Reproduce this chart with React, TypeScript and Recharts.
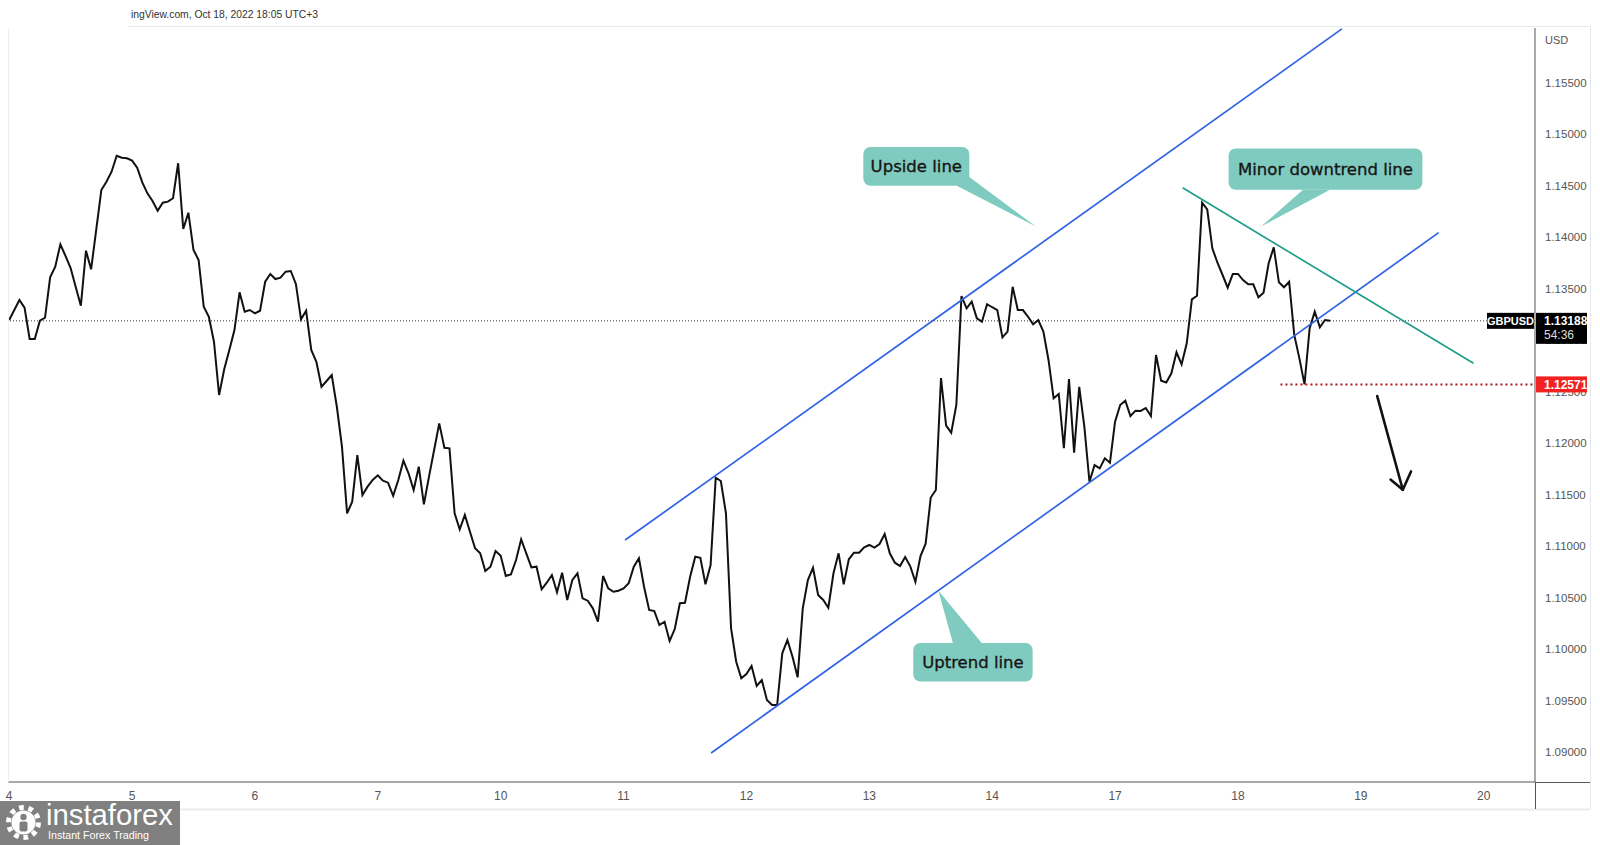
import React from "react";
import { LineChart, Line, XAxis, YAxis, ReferenceLine, ReferenceDot } from "recharts";

// GBPUSD 1h closes, one array per trading session (chart time UTC+3)
const oct04 = [1.13196, 1.13293, 1.1339, 1.13316, 1.13012, 1.13012, 1.13189, 1.13218, 1.13611, 1.13714, 1.13931, 1.13818, 1.13701, 1.13517, 1.13335, 1.13869, 1.13688, 1.1407, 1.14458, 1.14539, 1.14636, 1.14791, 1.14772, 1.14766];
const oct05 = [1.14743, 1.14675, 1.14533, 1.14426, 1.14351, 1.14257, 1.14335, 1.14345, 1.14378, 1.14718, 1.1408, 1.14238, 1.13876, 1.13779, 1.13325, 1.13228, 1.12985, 1.12468, 1.12718, 1.12905, 1.13099, 1.13465, 1.13277, 1.13293];
const oct06 = [1.13261, 1.13286, 1.13568, 1.13643, 1.13594, 1.13607, 1.13665, 1.13672, 1.13546, 1.13203, 1.13286, 1.12905, 1.12791, 1.12548, 1.12604, 1.12662, 1.12354, 1.11966, 1.11319, 1.11432, 1.11885, 1.11497, 1.11578, 1.11643];
const oct07 = [1.11688, 1.11636, 1.11617, 1.1149, 1.11643, 1.1183, 1.11708, 1.11546, 1.11772, 1.11407, 1.11675, 1.11934, 1.12193, 1.11956, 1.1195, 1.11319, 1.11164, 1.11303, 1.11141, 1.1098, 1.10931, 1.10759, 1.10801, 1.10953];
const oct10 = [1.10908, 1.10711, 1.10727, 1.10866, 1.11067, 1.10931, 1.10795, 1.10801, 1.10582, 1.10646, 1.1072, 1.10552, 1.10743, 1.10478, 1.10672, 1.10737, 1.10494, 1.10471, 1.10397, 1.10267, 1.10711, 1.10591, 1.10558, 1.10568];
const oct11 = [1.10591, 1.1064, 1.10801, 1.10883, 1.10607, 1.10381, 1.10371, 1.10235, 1.10267, 1.1008, 1.10196, 1.10446, 1.10451, 1.10704, 1.10898, 1.10888, 1.1063, 1.10818, 1.11665, 1.11633, 1.11319, 1.10203, 1.09879, 1.09717];
const oct12 = [1.09759, 1.09837, 1.09643, 1.09701, 1.09507, 1.09458, 1.09458, 1.0996, 1.10089, 1.09927, 1.09727, 1.10397, 1.10672, 1.10791, 1.10526, 1.10478, 1.10403, 1.10737, 1.10931, 1.1063, 1.10873, 1.10937, 1.10937, 1.10989];
const oct13 = [1.11012, 1.10986, 1.11021, 1.11118, 1.10931, 1.1084, 1.10808, 1.10895, 1.10805, 1.10654, 1.10905, 1.11025, 1.11473, 1.11546, 1.12633, 1.1217, 1.12102, 1.12371, 1.13429, 1.1331, 1.13374, 1.13213, 1.1318, 1.13349];
const oct14 = [1.1332, 1.13293, 1.13028, 1.13083, 1.13519, 1.13293, 1.13293, 1.13228, 1.13154, 1.13196, 1.13083, 1.12808, 1.12436, 1.12478, 1.11951, 1.12623, 1.11908, 1.12548, 1.1216, 1.11626, 1.11788, 1.11756, 1.11853, 1.11811];
const oct17 = [1.12209, 1.12371, 1.12413, 1.12264, 1.12316, 1.12313, 1.12342, 1.12264, 1.12856, 1.12607, 1.12589, 1.12679, 1.12883, 1.12766, 1.1297, 1.13397, 1.13432, 1.14335, 1.14271, 1.13892, 1.13752, 1.13633, 1.1351, 1.13643];
const oct18 = [1.13643, 1.13584, 1.13543, 1.13543, 1.13417, 1.13461, 1.13747, 1.13902, 1.13562, 1.13514, 1.13568, 1.13051, 1.12824, 1.12571, 1.13115, 1.13277, 1.13125, 1.13196, 1.13188];

const sessions = [oct04, oct05, oct06, oct07, oct10, oct11, oct12, oct13, oct14, oct17, oct18];
const sessionLabels = ["4", "5", "6", "7", "10", "11", "12", "13", "14", "17", "18", "19", "20"];
const priceTicks = [1.09, 1.095, 1.1, 1.105, 1.11, 1.115, 1.12, 1.125, 1.13, 1.135, 1.14, 1.145, 1.15, 1.155];

const symbol = "GBPUSD";
const lastPrice = 1.13188;
const countdown = "54:36";
const swingLow = 1.12571;

// drawings, in (hour, price)
const upsideLine = [{ hour: 120.3, price: 1.1106 }, { hour: 260.3, price: 1.16022 }];
const uptrendLine = [{ hour: 137.1, price: 1.08992 }, { hour: 279.2, price: 1.14044 }];
const minorDowntrend = [{ hour: 229.2, price: 1.1448 }, { hour: 286.0, price: 1.12776 }];
const swingLowStart = 248.3;
const arrowShaft = [{ hour: 267.2, price: 1.12458 }, { hour: 272.2, price: 1.11548 }];
const arrowWings = [{ hour: 269.8, price: 1.11647 }, { hour: 273.8, price: 1.11726 }];

const callouts = [
  { text: "Upside line", hour: 200.5, price: 1.14104 },
  { text: "Minor downtrend line", hour: 244.5, price: 1.14103 },
  { text: "Uptrend line", hour: 181.5, price: 1.10567 },
];

// box + pointer geometry relative to the pointer tip (px)
const calloutLayout: Record<string, { box: number[]; base: number[][] }> = {
  "Upside line": { box: [-172.4, -79.5, 106, 38.7], base: [[-79, -40.8], [-66.4, -49.5]] },
  "Minor downtrend line": { box: [-32.4, -78.1, 193.8, 41.3], base: [[42, -36.8], [69, -36.8]] },
  "Uptrend line": { box: [-25.2, 52.2, 119.4, 38.6], base: [[14.5, 52.4], [43.5, 52.4]] },
};

const data = sessions.flat().map((close, hour) => ({ hour, close }));
const sessionStarts = sessionLabels.map((_, i) => i * 24);

const X_DOMAIN: [number, number] = [-0.23, 298.02];
const Y_DOMAIN: [number, number] = [1.08711, 1.16031];
const BLUE = "#2f62e6";
const TEAL = "#1f9e89";
const CALLOUT_FILL = "#80cbbf";
const AXIS_FONT = "'Liberation Sans Narrow', 'Liberation Sans', Arial, sans-serif";

function TimeTick({ x, y, payload }: any) {
  return (
    <text x={x} y={y} dy="0.35em" textAnchor="middle" fill="#555" fontSize={12} fontFamily={AXIS_FONT}>
      {sessionLabels[Math.round(payload.value / 24)]}
    </text>
  );
}

function PriceTick({ x, y, payload }: any) {
  return (
    <text x={x} y={y} dy="0.35em" textAnchor="start" fill="#555" fontSize={11.5} fontFamily={AXIS_FONT}>
      {payload.value.toFixed(5)}
    </text>
  );
}

function Callout({ cx, cy, text }: { cx: number; cy: number; text: string }) {
  const { box, base } = calloutLayout[text];
  const [bx, by, bw, bh] = box;
  return (
    <g>
      <polygon
        points={`${cx},${cy} ${cx + base[0][0]},${cy + base[0][1]} ${cx + base[1][0]},${cy + base[1][1]}`}
        fill={CALLOUT_FILL}
      />
      <rect x={cx + bx} y={cy + by} width={bw} height={bh} rx={7} fill={CALLOUT_FILL} />
      <text
        x={cx + bx + bw / 2}
        y={cy + by + bh / 2}
        dy="0.36em"
        textAnchor="middle"
        fontSize={16.5}
        fontFamily="'DejaVu Sans', sans-serif"
        fill="#161616"
        stroke="#161616"
        strokeWidth={0.35}
      >
        {text}
      </text>
    </g>
  );
}

function LastPriceTag({ cx, cy }: any) {
  return (
    <g>
      <rect x={cx - 48} y={cy - 8} width={47} height={16} fill="#000" />
      <text x={cx - 24.5} y={cy} dy="0.36em" textAnchor="middle" fill="#fff" fontSize={11} fontWeight="bold" fontFamily={AXIS_FONT}>
        {symbol}
      </text>
      <rect x={cx + 1} y={cy - 8} width={51} height={31} fill="#000" />
      <text x={cx + 9} y={cy} dy="0.36em" fill="#fff" fontSize={12} fontWeight="bold" fontFamily={AXIS_FONT}>
        {lastPrice.toFixed(5)}
      </text>
      <text x={cx + 9} y={cy + 14} dy="0.36em" fill="#ddd" fontSize={12} fontFamily={AXIS_FONT}>
        {countdown}
      </text>
    </g>
  );
}

function SwingLowTag({ cx, cy }: any) {
  return (
    <g>
      <rect x={cx + 1} y={cy - 8} width={51} height={16} fill="#f22222" />
      <text x={cx + 9} y={cy} dy="0.36em" fill="#fff" fontSize={12} fontWeight="bold" fontFamily={AXIS_FONT}>
        {swingLow.toFixed(5)}
      </text>
    </g>
  );
}

const seg = (pts: { hour: number; price: number }[]) => pts.map((p) => ({ x: p.hour, y: p.price })) as any;

export default function App() {
  const xMax = X_DOMAIN[1];
  return (
    <div style={{ position: "relative", width: 1600, height: 845, background: "#fff" }}>
      <style>{"body{margin:0;}"}</style>
      <LineChart width={1600} height={845} data={data} margin={{ top: 28, right: 0, bottom: 33, left: 8 }}>
        <XAxis
          dataKey="hour"
          type="number"
          domain={X_DOMAIN}
          ticks={sessionStarts}
          interval={0}
          height={30}
          tickSize={0}
          tickMargin={14}
          tickLine={false}
          axisLine={{ stroke: "#555" }}
          tick={<TimeTick />}
          allowDataOverflow
        />
        <YAxis
          orientation="right"
          type="number"
          domain={Y_DOMAIN}
          ticks={priceTicks}
          interval={0}
          width={65}
          tickSize={0}
          tickMargin={10}
          tickLine={false}
          axisLine={{ stroke: "#555" }}
          tick={<PriceTick />}
          allowDataOverflow
        />
        <ReferenceLine y={lastPrice} stroke="#333" strokeDasharray="1 2" />
        <Line dataKey="close" stroke="#111" strokeWidth={2} dot={false} activeDot={false} isAnimationActive={false} type="linear" />
        <ReferenceLine segment={seg(upsideLine)} stroke={BLUE} strokeWidth={1.7} ifOverflow="visible" />
        <ReferenceLine segment={seg(uptrendLine)} stroke={BLUE} strokeWidth={1.7} ifOverflow="visible" />
        <ReferenceLine segment={seg(minorDowntrend)} stroke={TEAL} strokeWidth={1.7} ifOverflow="visible" />
        <ReferenceLine
          segment={[{ x: swingLowStart, y: swingLow }, { x: xMax, y: swingLow }]}
          stroke="#b01818"
          strokeWidth={2}
          strokeDasharray="2 3"
          ifOverflow="visible"
        />
        <ReferenceLine segment={seg(arrowShaft)} stroke="#111" strokeWidth={2.6} strokeLinecap="round" ifOverflow="visible" />
        {arrowWings.map((w, i) => (
          <ReferenceLine
            key={i}
            segment={seg([w, arrowShaft[1]])}
            stroke="#111"
            strokeWidth={2.6}
            strokeLinecap="round"
            ifOverflow="visible"
          />
        ))}
        {callouts.map((c) => (
          <ReferenceDot
            key={c.text}
            x={c.hour}
            y={c.price}
            r={0}
            ifOverflow="visible"
            shape={(p: any) => <Callout cx={p.cx} cy={p.cy} text={c.text} />}
          />
        ))}
      </LineChart>

      {/* second layer with the same scales, so the price tags sit above the axis labels */}
      <div style={{ position: "absolute", left: 0, top: 0 }}>
        <LineChart width={1600} height={845} data={data} margin={{ top: 28, right: 65, bottom: 63, left: 8 }}>
          <XAxis dataKey="hour" type="number" domain={X_DOMAIN} hide allowDataOverflow />
          <YAxis type="number" domain={Y_DOMAIN} hide allowDataOverflow />
          <ReferenceDot x={xMax} y={lastPrice} r={0} ifOverflow="visible" shape={(p: any) => <LastPriceTag cx={p.cx} cy={p.cy} />} />
          <ReferenceDot x={xMax} y={swingLow} r={0} ifOverflow="visible" shape={(p: any) => <SwingLowTag cx={p.cx} cy={p.cy} />} />
        </LineChart>
      </div>

      <svg width={1600} height={845} style={{ position: "absolute", left: 0, top: 0, pointerEvents: "none" }}>
        <text x={131} y={18} fontSize={11} fill="#333" fontFamily="'Liberation Sans', Arial, sans-serif" textLength={187} lengthAdjust="spacingAndGlyphs">
          ingView.com, Oct 18, 2022 18:05 UTC+3
        </text>
        <line x1={128} y1={26.5} x2={1590} y2={26.5} stroke="#e6e8ee" />
        <line x1={8.5} y1={28} x2={8.5} y2={782} stroke="#eceef2" />
        <line x1={1590.5} y1={26} x2={1590.5} y2={809} stroke="#e6e8ee" />
        <line x1={0} y1={809.5} x2={1590} y2={809.5} stroke="#ececec" strokeWidth={2} />
        <line x1={1535.5} y1={782} x2={1535.5} y2={809} stroke="#555" />
        <line x1={1535} y1={782.5} x2={1590} y2={782.5} stroke="#555" />
        <text x={1545} y={44} fontSize={11} fill="#555" fontFamily={AXIS_FONT}>USD</text>

        <rect x={0} y={801} width={180} height={44} fill="#808080" />
        <circle cx={23.5} cy={822.5} r={15} fill="none" stroke="#fff" strokeWidth={5} strokeDasharray="4.7 4.7" />
        <circle cx={23.5} cy={822.5} r={12} fill="#fff" />
        <circle cx={23.5} cy={817} r={3.2} fill="#808080" />
        <rect x={19.5} y={821.5} width={8} height={10} rx={2} fill="#808080" />
        <text x={46} y={825} fontSize={29} fill="#fff" fontFamily="'Liberation Sans', sans-serif" textLength={127} lengthAdjust="spacingAndGlyphs">
          instaforex
        </text>
        <text x={48} y={839} fontSize={11.5} fill="#fff" fontFamily="'Liberation Sans', sans-serif" textLength={101} lengthAdjust="spacingAndGlyphs">
          Instant Forex Trading
        </text>
      </svg>
    </div>
  );
}
